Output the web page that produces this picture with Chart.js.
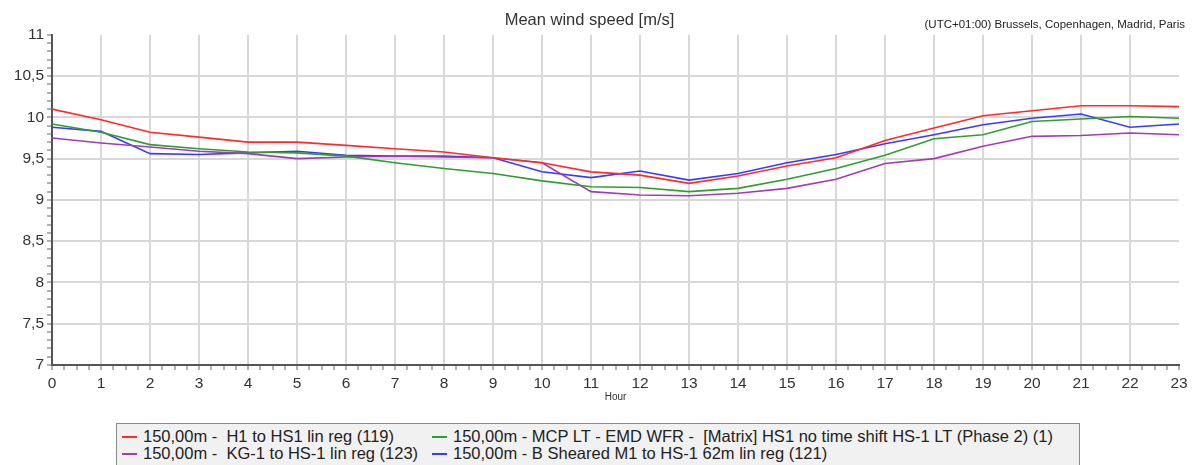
<!DOCTYPE html>
<html>
<head>
<meta charset="utf-8">
<script src="https://cdn.jsdelivr.net/npm/chart.js@4/dist/chart.umd.min.js"></script>
<style>
  body { margin: 0; background: #fff; font-family: "Liberation Sans", Arial, sans-serif; }
  #wrap { position: relative; width: 1200px; height: 465px; overflow: hidden; }
  #legend {
    position: absolute; left: 116px; top: 423px; width: 964px; height: 60px;
    border: 1px solid #8a8a8a; background: #f1f1f1; box-sizing: border-box;
    padding: 4px 0 0 5px;
    display: grid; grid-template-columns: 310px auto; grid-auto-rows: 17px;
    font-size: 16.5px; color: #222; white-space: pre;
  }
  .item { display: flex; align-items: center; }
  .dash { width: 15px; height: 2px; margin-right: 6px; }
</style>
</head>
<body>
<div id="wrap">
  <canvas id="windChart" width="1200" height="465"></canvas>
  <div id="legend"></div>
</div>
<script>
// Hourly mean wind speed at 150 m for each source
const hours = [0, 1, 2, 3, 4, 5, 6, 7, 8, 9, 10, 11, 12, 13, 14, 15, 16, 17, 18, 19, 20, 21, 22, 23];

const h1LinReg = [10.10, 9.97, 9.82, 9.76, 9.70, 9.70, 9.66, 9.62, 9.58, 9.51, 9.45, 9.34,
                  9.30, 9.20, 9.29, 9.41, 9.51, 9.72, 9.87, 10.02, 10.08, 10.14, 10.14, 10.13];
const mcpMatrix = [9.92, 9.82, 9.67, 9.62, 9.58, 9.57, 9.53, 9.45, 9.38, 9.32, 9.23, 9.16,
                   9.15, 9.10, 9.14, 9.25, 9.38, 9.54, 9.74, 9.79, 9.95, 9.98, 10.01, 9.99];
const kg1LinReg = [9.75, 9.69, 9.64, 9.59, 9.56, 9.50, 9.52, 9.53, 9.52, 9.51, 9.45, 9.10,
                   9.06, 9.05, 9.08, 9.14, 9.25, 9.44, 9.50, 9.65, 9.77, 9.78, 9.81, 9.79];
const bSheared = [9.88, 9.83, 9.56, 9.55, 9.57, 9.59, 9.54, 9.53, 9.53, 9.51, 9.34, 9.27,
                  9.35, 9.24, 9.32, 9.45, 9.55, 9.68, 9.79, 9.91, 9.99, 10.04, 9.88, 9.92];

const seriesNames = [
  "150,00m -  H1 to HS1 lin reg (119)",
  "150,00m - MCP LT - EMD WFR -  [Matrix] HS1 no time shift HS-1 LT (Phase 2) (1)",
  "150,00m -  KG-1 to HS-1 lin reg (123)",
  "150,00m - B Sheared M1 to HS-1 62m lin reg (121)"
];
const seriesColors = ["#ff2a2a", "#2f9e2f", "#a23cb4", "#3a3aff"];
const seriesValues = [h1LinReg, mcpMatrix, kg1LinReg, bSheared];

const chartTitle = "Mean wind speed [m/s]";
const zoneText = "(UTC+01:00) Brussels, Copenhagen, Madrid, Paris";
const fontFamily = '"Liberation Sans", Arial, sans-serif';

function isStep(v, step) {
  const q = v / step;
  return Math.abs(q - Math.round(q)) < 1e-6;
}

// time zone note in the top right corner
const cornerNote = {
  id: 'cornerNote',
  afterDraw(chart) {
    const c = chart.ctx;
    c.save();
    c.font = '11.5px ' + fontFamily;
    c.fillStyle = '#222';
    c.textAlign = 'right';
    c.textBaseline = 'middle';
    c.fillText(zoneText, 1185, 25);
    c.restore();
  }
};

const datasets = seriesValues.map((vals, i) => ({
  label: seriesNames[i],
  data: hours.map((h, j) => ({ x: h, y: vals[j] })),
  borderColor: seriesColors[i],
  borderWidth: 1.6,
  pointRadius: 0,
  tension: 0,
  fill: false
}));

const chart = new Chart(document.getElementById('windChart').getContext('2d'), {
  type: 'line',
  data: { datasets: datasets },
  options: {
    responsive: false,
    animation: false,
    devicePixelRatio: 1,
    layout: { padding: { left: 0, right: 21, top: 0, bottom: 60 } },
    plugins: {
      legend: { display: false },
      tooltip: { enabled: false },
      title: {
        display: true,
        text: chartTitle,
        color: '#333',
        font: { family: fontFamily, size: 16.5, weight: 'normal' },
        padding: { top: 11, bottom: 4 }
      }
    },
    scales: {
      x: {
        type: 'linear',
        min: 0,
        max: 23,
        afterFit: s => { s.height = 40; },
        border: { display: true, color: '#555', width: 2 },
        grid: {
          color: ctx => (isStep(ctx.tick.value, 1) && ctx.tick.value > 0 && ctx.tick.value < 23) ? '#d8d8d8' : 'rgba(0,0,0,0)',
          lineWidth: 2,
          tickColor: '#666',
          tickWidth: 1,
          tickLength: 5
        },
        ticks: {
          stepSize: 0.25,
          autoSkip: false,
          maxRotation: 0,
          padding: 4,
          color: '#333',
          font: { family: fontFamily, size: 15.5 },
          callback: v => isStep(v, 1) ? String(Math.round(v)) : ''
        },
        title: {
          display: true,
          text: 'Hour',
          color: '#333',
          font: { family: fontFamily, size: 10 },
          padding: { top: 0, bottom: 2 }
        }
      },
      y: {
        min: 7,
        max: 11,
        afterFit: s => { s.width = 52; },
        border: { display: true, color: '#555', width: 2 },
        grid: {
          color: ctx => (isStep(ctx.tick.value, 0.5) && ctx.tick.value < 10.99) ? '#d8d8d8' : 'rgba(0,0,0,0)',
          lineWidth: 2,
          tickColor: '#666',
          tickWidth: 1,
          tickLength: 5
        },
        ticks: {
          stepSize: 0.1,
          autoSkip: false,
          padding: 3,
          color: '#333',
          font: { family: fontFamily, size: 15.5 },
          callback: v => {
            const r = Math.round(v * 10) / 10;
            return isStep(r, 0.5) ? String(r).replace('.', ',') : '';
          }
        }
      }
    }
  },
  plugins: [cornerNote]
});

// legend box: two columns, filled row by row
const legendBox = document.getElementById('legend');
chart.data.datasets.forEach(ds => {
  const item = document.createElement('div');
  item.className = 'item';
  const dash = document.createElement('span');
  dash.className = 'dash';
  dash.style.background = ds.borderColor;
  const text = document.createElement('span');
  text.textContent = ds.label;
  item.appendChild(dash);
  item.appendChild(text);
  legendBox.appendChild(item);
});
</script>
</body>
</html>
